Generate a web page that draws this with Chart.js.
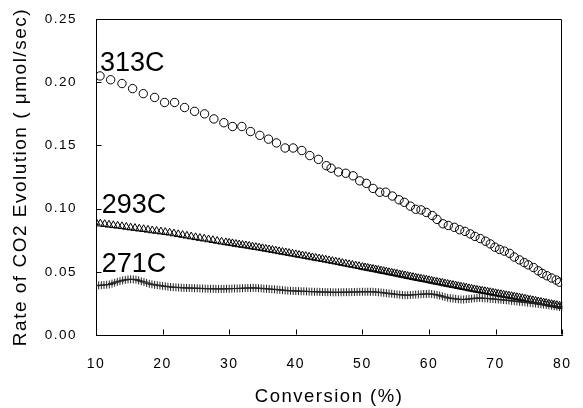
<!DOCTYPE html>
<html>
<head>
<meta charset="utf-8">
<script src="https://cdn.jsdelivr.net/npm/chart.js@4/dist/chart.umd.min.js"></script>
<style>
  html, body { margin: 0; padding: 0; background: #fff; }
  #wrap { width: 583px; height: 408px; }
</style>
</head>
<body>
<div id="wrap"><canvas id="co2Chart" width="583" height="408"></canvas></div>
<script>
// conversion (%) / rate of CO2 evolution (umol/sec) for each run temperature
var conv313 = [10.6, 12.2, 13.9, 15.5, 17.1, 18.8, 20.3, 21.8, 23.3, 24.8, 26.3, 27.7, 29.2, 30.5, 31.9, 33.2, 34.6,
    35.9, 37.1, 38.4, 39.6, 40.9, 42.1, 43.4, 44.6, 45.3, 46.4, 47.5, 48.6, 49.6, 50.6, 51.6, 52.6, 53.5, 54.5, 55.5,
    56.3, 57.2, 58.0, 58.8, 59.6, 60.5, 61.2, 62.1, 62.9, 63.8, 64.6, 65.4, 66.2, 66.9, 67.7, 68.5, 69.2, 69.9, 70.6,
    71.3, 72.1, 72.8, 73.6, 74.3, 74.9, 75.7, 76.4, 77.0, 77.7, 78.4, 79.1, 79.6];
var rate313 = [0.205, 0.202, 0.199, 0.195, 0.191, 0.188, 0.184, 0.184, 0.180, 0.177, 0.175, 0.171, 0.168, 0.165, 0.165,
    0.161, 0.158, 0.155, 0.152, 0.148, 0.148, 0.146, 0.142, 0.139, 0.134, 0.132, 0.129, 0.128, 0.126, 0.122, 0.120,
    0.116, 0.113, 0.113, 0.110, 0.107, 0.105, 0.102, 0.0995, 0.099, 0.097, 0.0945, 0.0915, 0.088, 0.0867, 0.0852,
    0.0833, 0.082, 0.080, 0.078, 0.0763, 0.0742, 0.0721, 0.0695, 0.0677, 0.0664, 0.0646, 0.0617, 0.0594, 0.0573,
    0.0555, 0.0534, 0.0508, 0.0487, 0.0469, 0.0451, 0.0435, 0.0418];

var conv293 = [10.0, 10.65, 11.3, 11.95, 12.6, 13.25, 13.9, 14.55, 15.2, 15.85, 16.5, 17.15, 17.8, 18.45, 19.1, 19.75,
    20.4, 21.05, 21.7, 22.35, 23.0, 23.65, 24.3, 24.95, 25.6, 26.25, 26.9, 27.55, 28.2, 28.85, 29.5,
    30.0, 30.5, 31.0, 31.5, 32.0, 32.5, 33.0, 33.5, 34.0, 34.5, 35.0, 35.5, 36.0, 36.5, 37.0, 37.5, 38.0, 38.5, 39.0,
    39.5, 40.0, 40.5, 41.0, 41.5, 42.0, 42.5, 43.0, 43.5, 44.0, 44.5, 45.0, 45.5, 46.0, 46.5, 47.0, 47.5, 48.0, 48.5,
    49.0, 49.5, 50.0, 50.4, 50.8, 51.2, 51.6, 52.0, 52.4, 52.8, 53.2, 53.6, 54.0, 54.4, 54.8, 55.2, 55.6, 56.0, 56.4,
    56.8, 57.2, 57.6, 58.0, 58.4, 58.8, 59.2, 59.6, 60.0, 60.4, 60.8, 61.2, 61.6, 62.0, 62.4, 62.8, 63.2, 63.6, 64.0,
    64.4, 64.8, 65.2, 65.6, 66.0, 66.4, 66.8, 67.2, 67.6, 68.0, 68.4, 68.8, 69.2, 69.6, 70.0, 70.4, 70.8, 71.2, 71.6,
    72.0, 72.4, 72.8, 73.2, 73.6, 74.0, 74.4, 74.8, 75.2, 75.6, 76.0, 76.4, 76.8, 77.2, 77.6, 78.0, 78.4, 78.8, 79.2,
    79.6, 80.0];
var rate293 = [0.0890, 0.0881, 0.0877, 0.0872, 0.0868, 0.0864, 0.0860, 0.0855, 0.0850, 0.0846, 0.0841, 0.0837, 0.0832,
    0.0827, 0.0823, 0.0818, 0.0814, 0.0809, 0.0803, 0.0797, 0.0791, 0.0785, 0.0779, 0.0773, 0.0767, 0.0762, 0.0756,
    0.0750, 0.0744, 0.0738, 0.0733,
    0.0729, 0.0725, 0.0720, 0.0716, 0.0712, 0.0708, 0.0704, 0.0699, 0.0695, 0.0691, 0.0686, 0.0681, 0.0677, 0.0672,
    0.0667, 0.0662, 0.0657, 0.0653, 0.0648, 0.0643, 0.0638, 0.0633, 0.0629, 0.0624, 0.0619, 0.0614, 0.0609, 0.0605,
    0.0600, 0.0595, 0.0590, 0.0585, 0.0580, 0.0575, 0.0569, 0.0564, 0.0559, 0.0554, 0.0549, 0.0544,
    0.0538, 0.0534, 0.0530, 0.0526, 0.0522, 0.0518, 0.0514, 0.0509, 0.0505, 0.0501, 0.0496, 0.0492, 0.0488, 0.0484,
    0.0479, 0.0475, 0.0471, 0.0466, 0.0462, 0.0458, 0.0453, 0.0449, 0.0445, 0.0441, 0.0437, 0.0433, 0.0428, 0.0424,
    0.0420, 0.0416, 0.0412, 0.0407, 0.0403, 0.0399, 0.0395, 0.0391, 0.0386, 0.0382, 0.0378, 0.0374, 0.0369, 0.0365,
    0.0361, 0.0357, 0.0353, 0.0349, 0.0346, 0.0342, 0.0338, 0.0334, 0.0330, 0.0326, 0.0322, 0.0318, 0.0314, 0.0311,
    0.0307, 0.0303, 0.0299, 0.0295, 0.0291, 0.0287, 0.0282, 0.0278, 0.0274, 0.0270, 0.0265, 0.0261, 0.0257, 0.0253,
    0.0248, 0.0244, 0.0240, 0.0236, 0.0231, 0.0227];

var conv271 = [10.0, 10.4, 10.8, 11.2, 11.6, 12.0, 12.4, 12.8, 13.2, 13.6, 14.0, 14.4, 14.8, 15.2, 15.6, 16.0, 16.4,
    16.8, 17.2, 17.6, 18.0, 18.4, 18.8, 19.2, 19.6, 20.0, 20.4, 20.8, 21.2, 21.6, 22.0, 22.4, 22.8, 23.2, 23.6, 24.0,
    24.4, 24.8, 25.2, 25.6, 26.0, 26.4, 26.8, 27.2, 27.6, 28.0, 28.4, 28.8, 29.2, 29.6, 30.0, 30.4, 30.8, 31.2, 31.6,
    32.0, 32.4, 32.8, 33.2, 33.6, 34.0, 34.4, 34.8, 35.2, 35.6, 36.0, 36.4, 36.8, 37.2, 37.6, 38.0, 38.4, 38.8, 39.2,
    39.6, 40.0, 40.4, 40.8, 41.2, 41.6, 42.0, 42.4, 42.8, 43.2, 43.6, 44.0, 44.4, 44.8, 45.2, 45.6, 46.0, 46.4, 46.8,
    47.2, 47.6, 48.0, 48.4, 48.8, 49.2, 49.6, 50.0, 50.4, 50.8, 51.2, 51.6, 52.0, 52.4, 52.8, 53.2, 53.6, 54.0, 54.4,
    54.8, 55.2, 55.6, 56.0, 56.4, 56.8, 57.2, 57.6, 58.0, 58.4, 58.8, 59.2, 59.6, 60.0, 60.4, 60.8, 61.2, 61.6, 62.0,
    62.4, 62.8, 63.2, 63.6, 64.0, 64.4, 64.8, 65.2, 65.6, 66.0, 66.4, 66.8, 67.2, 67.6, 68.0, 68.4, 68.8, 69.2, 69.6,
    70.0, 70.4, 70.8, 71.2, 71.6, 72.0, 72.4, 72.8, 73.2, 73.6, 74.0, 74.4, 74.8, 75.2, 75.6, 76.0, 76.4, 76.8, 77.2,
    77.6, 78.0, 78.4, 78.8, 79.2, 79.6, 80.0];
var rate271 = [0.0390, 0.0392, 0.0394, 0.0396, 0.0398, 0.0400, 0.0407, 0.0414, 0.0421, 0.0426, 0.0432, 0.0436, 0.0440,
    0.0441, 0.0440, 0.0438, 0.0432, 0.0425, 0.0419, 0.0412, 0.0405, 0.0401, 0.0397, 0.0394, 0.0391, 0.0388, 0.0385,
    0.0383, 0.0380, 0.0378, 0.0377, 0.0376, 0.0374, 0.0373, 0.0372, 0.0372, 0.0371, 0.0370, 0.0370, 0.0369, 0.0368,
    0.0367, 0.0366, 0.0366, 0.0366, 0.0365, 0.0365, 0.0365, 0.0365, 0.0366, 0.0366, 0.0367, 0.0368, 0.0368, 0.0369,
    0.0370, 0.0371, 0.0372, 0.0372, 0.0373, 0.0372, 0.0370, 0.0369, 0.0367, 0.0366, 0.0364, 0.0362, 0.0361, 0.0359,
    0.0357, 0.0355, 0.0353, 0.0351, 0.0350, 0.0349, 0.0348, 0.0347, 0.0346, 0.0346, 0.0345, 0.0344, 0.0343, 0.0342,
    0.0342, 0.0341, 0.0340, 0.0340, 0.0339, 0.0339, 0.0338, 0.0338, 0.0338, 0.0338, 0.0339, 0.0339, 0.0339, 0.0340,
    0.0340, 0.0341, 0.0341, 0.0342, 0.0342, 0.0342, 0.0342, 0.0342, 0.0340, 0.0338, 0.0336, 0.0334, 0.0331, 0.0328,
    0.0326, 0.0323, 0.0321, 0.0319, 0.0317, 0.0315, 0.0315, 0.0317, 0.0318, 0.0320, 0.0321, 0.0322, 0.0324, 0.0325,
    0.0326, 0.0324, 0.0321, 0.0317, 0.0312, 0.0306, 0.0300, 0.0295, 0.0291, 0.0288, 0.0286, 0.0283, 0.0281, 0.0281,
    0.0283, 0.0285, 0.0287, 0.0290, 0.0292, 0.0293, 0.0291, 0.0290, 0.0289, 0.0287, 0.0285, 0.0283, 0.0281, 0.0279,
    0.0277, 0.0275, 0.0273, 0.0270, 0.0268, 0.0266, 0.0263, 0.0261, 0.0259, 0.0256, 0.0254, 0.0251, 0.0249, 0.0246,
    0.0243, 0.0241, 0.0238, 0.0235, 0.0232, 0.0228, 0.0225, 0.0221, 0.0218];

var xTicks = [10, 20, 30, 40, 50, 60, 70, 80];
var yTicks = [0.00, 0.05, 0.10, 0.15, 0.20, 0.25];

// run labels written next to the start of each curve (data coords of text baseline-left)
var runNames = ['313C', '293C', '271C'];
var runNameAt = [[10.6, 0.2086], [10.85, 0.0969], [10.85, 0.0500]];

function toPoints(xs, ys) {
    var pts = [];
    for (var i = 0; i < Math.min(xs.length, ys.length); i++) {
        pts.push({ x: xs[i], y: ys[i] });
    }
    return pts;
}

var FONT = "'Liberation Sans', Arial, Helvetica, sans-serif";
Chart.defaults.font.family = FONT;
Chart.defaults.color = '#000';

// frame, inward tick marks and run labels
var framePlugin = {
    id: 'framePlugin',
    beforeDraw: function (chart) {
        chart.ctx.letterSpacing = '1.5px';
    },
    afterDraw: function (chart) {
        var ctx = chart.ctx;
        var a = chart.chartArea;
        var xs = chart.scales.x;
        var ys = chart.scales.y;
        var L = Math.round(a.left) + 0.5, R = Math.round(a.right) - 0.5;
        var T = Math.round(a.top) + 0.5, B = Math.round(a.bottom) - 0.5;
        ctx.save();
        ctx.strokeStyle = '#000';
        ctx.lineWidth = 1;
        ctx.beginPath();
        ctx.moveTo(L, T); ctx.lineTo(R, T); ctx.lineTo(R, B);
        xTicks.forEach(function (v) {
            var px = Math.round(xs.getPixelForValue(v)) + 0.5;
            ctx.moveTo(px, B); ctx.lineTo(px, B - 5);
        });
        yTicks.forEach(function (v) {
            var py = Math.round(ys.getPixelForValue(v)) + 0.5;
            ctx.moveTo(L, py); ctx.lineTo(L + 5, py);
        });
        ctx.stroke();

        ctx.letterSpacing = '0px';
        ctx.fillStyle = '#000';
        ctx.font = '27px ' + FONT;
        ctx.textAlign = 'left';
        ctx.textBaseline = 'alphabetic';
        runNames.forEach(function (name, i) {
            ctx.fillText(name, xs.getPixelForValue(runNameAt[i][0]), ys.getPixelForValue(runNameAt[i][1]));
        });
        ctx.restore();
    }
};

var markerBase = {
    showLine: false,
    pointBorderColor: '#000',
    pointBackgroundColor: 'rgba(0,0,0,0)',
    pointBorderWidth: 1,
    pointHoverRadius: 0
};

var ctx = document.getElementById('co2Chart').getContext('2d');
var co2Chart = new Chart(ctx, {
    type: 'scatter',
    data: {
        datasets: [
            Object.assign({ label: '271C', data: toPoints(conv271, rate271), pointStyle: 'cross', pointRadius: 4 }, markerBase, { pointBorderColor: '#222' }),
            Object.assign({ label: '293C', data: toPoints(conv293, rate293), pointStyle: 'triangle', pointRadius: 4.5 }, markerBase),
            Object.assign({ label: '313C', data: toPoints(conv313, rate313), pointStyle: 'circle', pointRadius: 4.2 }, markerBase)
        ]
    },
    options: {
        responsive: false,
        animation: false,
        events: [],
        layout: { padding: { left: 0, right: 10, top: 15, bottom: 0 } },
        plugins: {
            legend: { display: false },
            tooltip: { enabled: false }
        },
        scales: {
            x: {
                type: 'linear',
                min: 10,
                max: 80,
                afterFit: function (s) { s.height = 73; },
                afterBuildTicks: function (s) { s.ticks = xTicks.map(function (v) { return { value: v }; }); },
                grid: { display: false },
                border: { display: true, color: '#000', width: 1 },
                ticks: {
                    padding: 13,
                    maxRotation: 0,
                    font: { size: 14 },
                    color: '#000'
                },
                title: {
                    display: true,
                    text: 'Conversion (%)',
                    font: { size: 18.5 },
                    color: '#000',
                    padding: { top: 0, bottom: 0 }
                }
            },
            y: {
                type: 'linear',
                min: 0,
                max: 0.25,
                afterFit: function (s) { s.width = 96; },
                afterBuildTicks: function (s) { s.ticks = yTicks.map(function (v) { return { value: v }; }); },
                grid: { display: false },
                border: { display: true, color: '#000', width: 1 },
                ticks: {
                    padding: 11,
                    font: { size: 13.5 },
                    color: '#000',
                    callback: function (v) { return Number(v).toFixed(2); }
                },
                title: {
                    display: true,
                    text: 'Rate of CO2 Evolution ( \u03bcmol/sec)',
                    font: { size: 19 },
                    color: '#000',
                    padding: { top: 9, bottom: 0 }
                }
            }
        }
    },
    plugins: [framePlugin]
});
</script>
</body>
</html>
